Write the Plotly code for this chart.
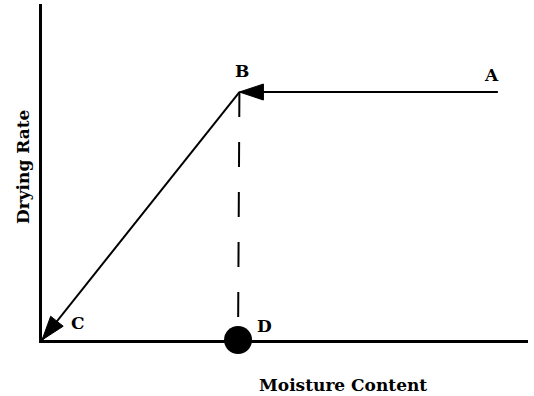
import plotly.graph_objects as go

# ---- data (schematic drying-rate curve, arbitrary units) ----
point_names = ["A", "B", "C", "D"]
moisture = [10.0, 4.33, 0.0, 4.3]     # x: moisture content
rate = [8.0, 8.0, 0.0, 0.0]           # y: drying rate
label_dx = [-0.13, 0.06, 0.79, 0.57]  # label offsets (x units)
label_dy = [0.55, 0.68, 0.55, 0.45]   # label offsets (y units)

x_title = "Moisture Content"
y_title = "Drying Rate"

# ---- layout geometry ----
W, H = 534, 396
ML, MR, MT, MB = 42, 6, 4, 56
XR = [0, 10.66]
YR = [0, 10.84]
pw, ph = W - ML - MR, H - MT - MB
sx = pw / (XR[1] - XR[0])   # px per x unit
sy = ph / (YR[1] - YR[0])   # px per y unit

FONT = "DejaVu Serif"

A = (moisture[0], rate[0])
B = (moisture[1], rate[1])
C = (moisture[2], rate[2])
D = (moisture[3], rate[3])


def arrow_head(p_from, p_to, length_px, half_px):
    # triangle with tip at p_to, computed in pixel space
    dx = (p_to[0] - p_from[0]) * sx
    dy = (p_to[1] - p_from[1]) * sy
    n = (dx ** 2 + dy ** 2) ** 0.5
    ux, uy = dx / n, dy / n
    bx = -ux * length_px
    by = -uy * length_px
    px_, py_ = -uy * half_px, ux * half_px
    pts = [(0, 0), (bx + px_, by + py_), (bx - px_, by - py_), (0, 0)]
    xs = [p_to[0] + a / sx for a, b in pts]
    ys = [p_to[1] + b / sy for a, b in pts]
    return xs, ys


fig = go.Figure()

# A -> B (constant rate period)
fig.add_trace(go.Scatter(x=[A[0], B[0]], y=[A[1], B[1]], mode="lines",
                         line=dict(color="black", width=2), hoverinfo="skip"))
# B -> C (falling rate period)
fig.add_trace(go.Scatter(x=[B[0], C[0]], y=[B[1], C[1]], mode="lines",
                         line=dict(color="black", width=2), hoverinfo="skip"))
# B -- D dashed
fig.add_trace(go.Scatter(x=[B[0], D[0]], y=[B[1], D[1]], mode="lines",
                         line=dict(color="black", width=2, dash="25px,25px"),
                         hoverinfo="skip"))

# arrow heads
for p0, p1 in [(A, B), (B, C)]:
    hx, hy = arrow_head(p0, p1, 24, 8)
    fig.add_trace(go.Scatter(x=hx, y=hy, mode="lines", fill="toself",
                             fillcolor="black", line=dict(color="black", width=1),
                             hoverinfo="skip"))

# critical moisture point D
fig.add_trace(go.Scatter(x=[D[0]], y=[D[1]], mode="markers",
                         marker=dict(color="black", size=28, line=dict(width=0)),
                         cliponaxis=False, hoverinfo="skip"))

# point labels
for name, x, y, dx, dy in zip(point_names, moisture, rate, label_dx, label_dy):
    fig.add_annotation(x=x + dx, y=y + dy, text="<b>%s</b>" % name, showarrow=False,
                       xanchor="center", yanchor="middle",
                       font=dict(family=FONT, size=17, color="black"))

# axis titles
fig.add_annotation(xref="paper", yref="paper", x=(343 - ML) / pw, y=(H - MB - 385) / ph,
                   text="<b>%s</b>" % x_title, showarrow=False,
                   xanchor="center", yanchor="middle",
                   font=dict(family=FONT, size=17, color="black"))
fig.add_annotation(xref="paper", yref="paper", x=(23 - ML) / pw, y=(H - MB - 167) / ph,
                   text="<b>%s</b>" % y_title, showarrow=False, textangle=-90,
                   xanchor="center", yanchor="middle",
                   font=dict(family=FONT, size=17, color="black"))

axis_common = dict(showgrid=False, zeroline=False, showticklabels=False, ticks="",
                   showline=True, linecolor="black", linewidth=3, fixedrange=True)
fig.update_layout(
    width=W, height=H,
    margin=dict(l=ML, r=MR, t=MT, b=MB),
    paper_bgcolor="white", plot_bgcolor="white",
    showlegend=False,
    xaxis=dict(range=XR, **axis_common),
    yaxis=dict(range=YR, **axis_common),
)

fig.write_html("out.html", config={"displayModeBar": False},
               post_script="document.body.style.margin='0';document.documentElement.style.margin='0';")
